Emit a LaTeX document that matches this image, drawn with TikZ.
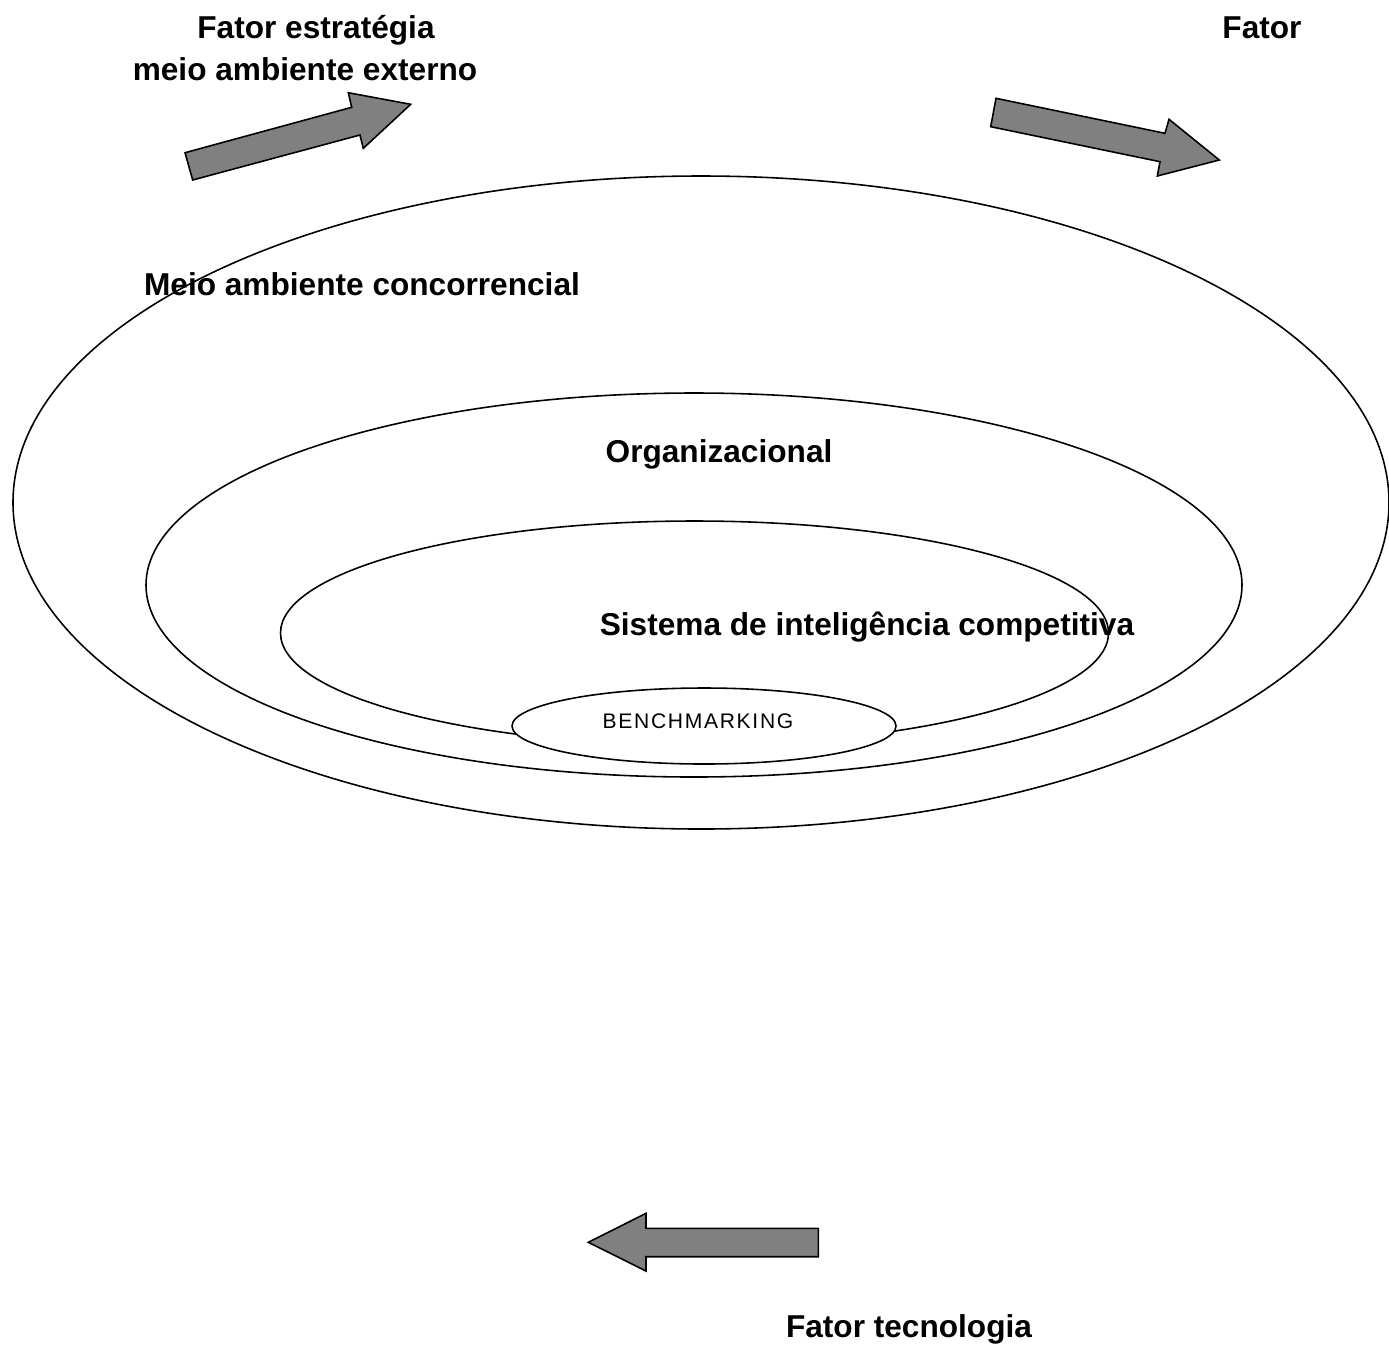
\documentclass[tikz,border=0pt]{standalone}
\usepackage{fontspec}
\setmainfont{Liberation Sans}
\newfontfamily\benchfont[LetterSpace=8]{Liberation Sans}
\usepackage{tikz}
\usetikzlibrary{positioning}
\definecolor{arrowgray}{HTML}{808080}
\tikzset{
  ring/.style={draw=black, line width=0.9pt},
  blockarrow/.style={draw=black, line width=0.9pt, fill=arrowgray, line join=miter},
  lbl/.style={anchor=base, inner sep=0pt, font=\fontsize{18}{25}\selectfont\bfseries},
}

\begin{document}
\begin{tikzpicture}[x=0.02cm, y=-0.02cm]
    \useasboundingbox (0,0) rectangle (1389,1367);
    % rings
    \draw[ring] (701,502.5) ellipse [x radius=688, y radius=326.5];
    \draw[ring] (694,585) ellipse [x radius=548, y radius=192];
    \draw[ring] (694.5,633) ellipse [x radius=414, y radius=112];
    \draw[ring, fill=white] (704,726) ellipse [x radius=192, y radius=38];
    % arrows
    \draw[blockarrow] (192.7,180) -- (185,152.7) -- (351.7,107.3) -- (348.3,92.7)
      -- (410.7,104.3) -- (363.3,148.3) -- (360,135) -- cycle;
    \draw[blockarrow] (996,98.3) -- (990.7,126.7) -- (1160,161.7) -- (1157.3,176)
      -- (1219.3,160) -- (1169,119.3) -- (1165,133.3) -- cycle;
    \draw[blockarrow] (588.3,1242.3) -- (646,1213.3) -- (646,1228.3) -- (818.3,1228.3)
      -- (818.3,1256.7) -- (646,1256.7) -- (646,1271) -- cycle;
    % labels
    \node[lbl] (estr1) at (316,38) {Fator estratégia};
    \node[lbl] (estr2) at (305,80) {meio ambiente externo};
    \node[lbl] (fator) at (1262,38) {Fator};
    \node[lbl] (conc) at (362,295) {Meio ambiente concorrencial};
    \node[lbl] (org) at (719,462) {Organizacional};
    \node[lbl] (sic) at (867,635) {Sistema de inteligência competitiva};
    \node[anchor=base, inner sep=0pt, font=\benchfont\fontsize{12}{14}\selectfont] (bench) at (698,728) {BENCHMARKING};
    \node[lbl] (tec) at (909,1337) {Fator tecnologia};
\end{tikzpicture}
\end{document}
